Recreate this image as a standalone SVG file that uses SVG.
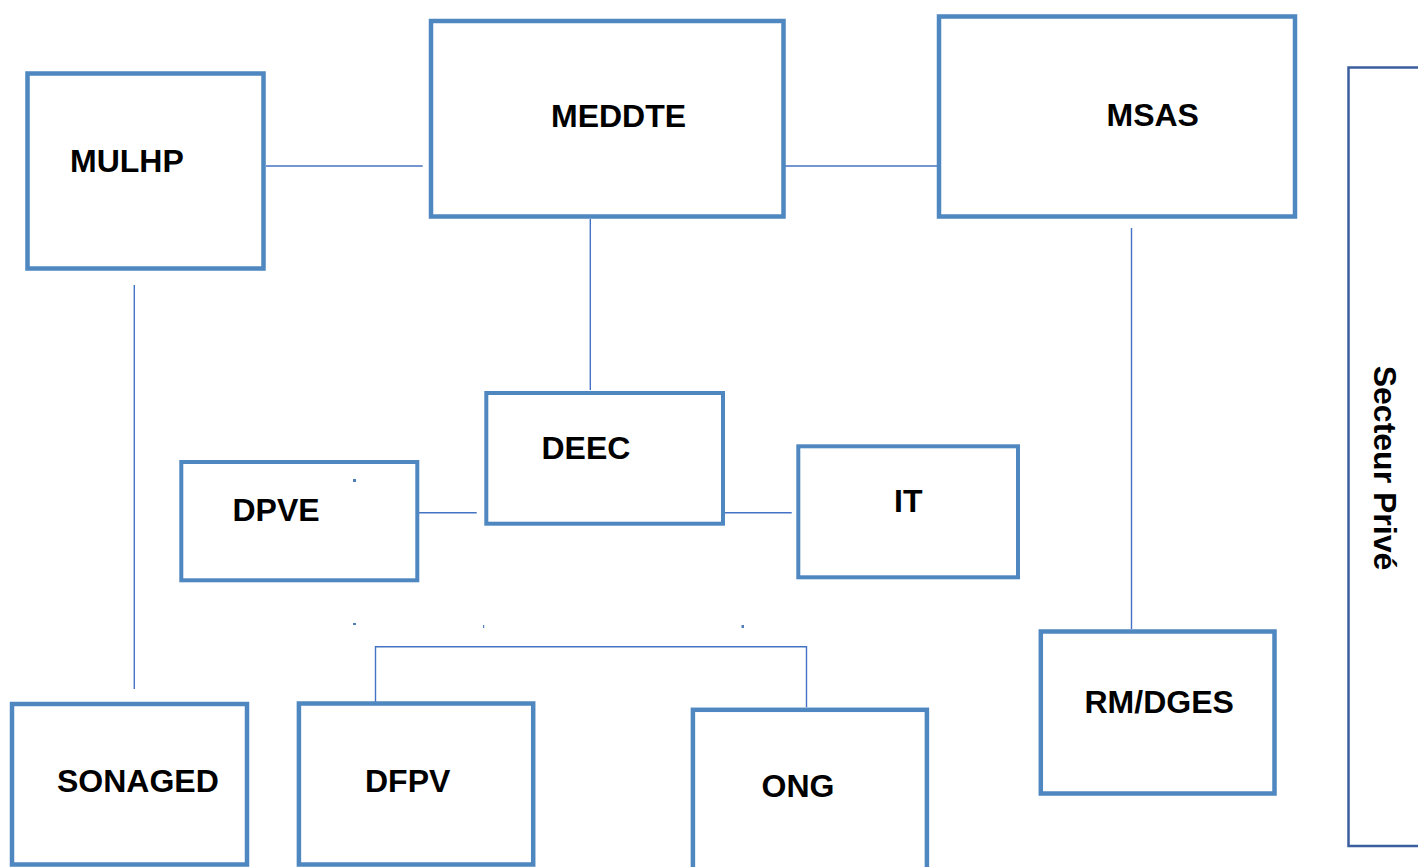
<svg xmlns="http://www.w3.org/2000/svg" width="1418" height="867" viewBox="0 0 1418 867">
<style>
.box{fill:#fff;stroke:#4F87C1;stroke-width:4.5}
.sm{stroke-width:4}
.lbl{font-family:"Liberation Sans",Arial,sans-serif;font-weight:bold;font-size:32px;fill:#000}
.con{fill:none;stroke:#4472C4;stroke-width:1.4}
.dot{fill:#4F7FB8}
</style>
<rect width="1418" height="867" fill="#fff"/>
<g id="connectors">
<line class="con" x1="266" y1="166" x2="422.7" y2="166"/>
<line class="con" x1="779.3" y1="166" x2="945" y2="166"/>
<line class="con" x1="590.3" y1="219" x2="590.3" y2="390"/>
<line class="con" x1="419" y1="512.7" x2="476.7" y2="512.7"/>
<line class="con" x1="725" y1="512.7" x2="791.7" y2="512.7"/>
<line class="con" x1="134.3" y1="285" x2="134.3" y2="689"/>
<line class="con" x1="1131.5" y1="228" x2="1131.5" y2="629"/>
<path class="con" d="M375.5,707.3 V646.7 H806.5 V707.3"/>
</g>
<g id="MULHP"><rect class="box" x="27.5" y="73.5" width="236" height="195"/><text class="lbl" x="70" y="171.5">MULHP</text></g>
<g id="MEDDTE"><rect class="box" x="431" y="21" width="352.5" height="195.5"/><text class="lbl" x="551" y="126.5">MEDDTE</text></g>
<g id="MSAS"><rect class="box" x="939" y="16.5" width="356" height="200"/><text class="lbl" x="1106.5" y="126">MSAS</text></g>
<g id="DEEC"><rect class="box sm" x="486.3" y="393" width="236.7" height="130.7"/><text class="lbl" x="541.5" y="459.3">DEEC</text></g>
<g id="DPVE"><rect class="box sm" x="181.3" y="462" width="236" height="118.3"/><text class="lbl" x="232.5" y="520.7">DPVE</text></g>
<g id="IT"><rect class="box sm" x="798.3" y="446.3" width="219.7" height="131"/><text class="lbl" x="894" y="512.3">IT</text></g>
<g id="SONAGED"><rect class="box" x="12" y="704" width="235" height="160.5"/><text class="lbl" x="57" y="791.7">SONAGED</text></g>
<g id="DFPV"><rect class="box" x="298.9" y="703.5" width="234.3" height="161"/><text class="lbl" x="365" y="791.7">DFPV</text></g>
<g id="ONG"><rect class="box" x="692.9" y="709.8" width="234" height="200"/><text class="lbl" x="761.5" y="796.7">ONG</text></g>
<g id="RMDGES"><rect class="box" x="1040.8" y="631.5" width="233.7" height="162"/><text class="lbl" x="1084.5" y="712.7">RM/DGES</text></g>
<g id="SecteurPrive"><rect x="1348.5" y="67.5" width="200" height="778.5" fill="#fff" stroke="#3A5E9E" stroke-width="2.5"/><text class="lbl" transform="translate(1374,468) rotate(90)" text-anchor="middle">Secteur Privé</text></g>
<rect class="dot" x="353" y="479" width="3" height="3"/>
<rect class="dot" x="353" y="623" width="3" height="2"/>
<rect class="dot" x="483" y="625" width="1.2" height="3"/>
<rect class="dot" x="741.5" y="625" width="2.5" height="3"/>
</svg>
